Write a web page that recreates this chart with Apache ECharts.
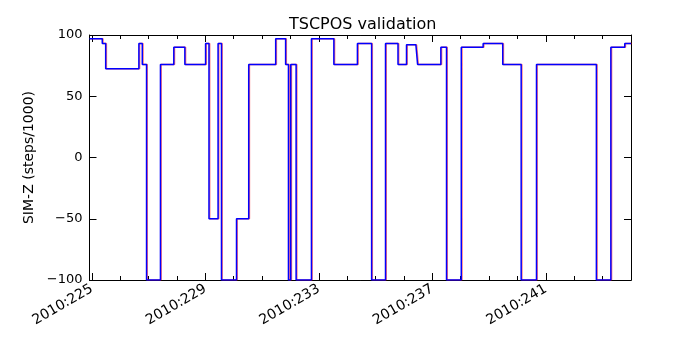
<!DOCTYPE html>
<html>
<head>
<meta charset="utf-8">
<title>TSCPOS validation</title>
<script src="https://cdn.jsdelivr.net/npm/echarts@6/dist/echarts.min.js"></script>
</head>
<body style="margin:0">
<div id="main" style="width:700px;height:350px"></div>
<script>
// day of year 2010 at which SIM-Z changes, and the value held from then on
var changeDays = [224.92, 225.37, 225.49, 226.66, 226.78, 226.93, 227.42, 227.89, 228.28,
  229.01, 229.13, 229.45, 229.57, 230.10, 230.53, 231.48, 231.83, 231.93, 232.01, 232.20,
  232.74, 233.53, 234.36, 234.86, 235.35, 235.79, 236.09, 236.42, 236.48, 237.30, 237.50,
  238.02, 238.79, 239.48, 240.13, 240.67, 242.78, 243.29, 243.78, 244.00];
var simzValues = [97, 93, 72.5, 93, 76, -100, 76, 90, 76,
  93, -50, 93, -100, -50, 76, 97, 76, -100, 76, -100,
  97, 76, 93, -100, 93, 76, 92, 93, 76, 90, -100,
  90, 93, 76, -100, 76, -100, 90, 93, 93];
var majorDays = [225, 229, 233, 237, 241];
var minorDays = [225, 226, 227, 228, 229, 230, 231, 232, 233, 234, 235, 236, 237, 238,
  239, 240, 241, 242, 243];

var X_MIN = 224.92, X_MAX = 244.0;
var points = changeDays.map(function (d, i) { return [d, simzValues[i]]; });

var black = '#000';
function tickAxis(pos, values, len, labels) {
  return {
    type: 'value', position: pos, min: X_MIN, max: X_MAX,
    axisLine: { show: true, onZero: false, lineStyle: { color: black, width: 1 } },
    axisTick: { show: true, inside: true, length: len, customValues: values,
      lineStyle: { color: black, width: 1 } },
    axisLabel: labels ? {
      show: true, customValues: values, rotate: 30, margin: 8,
      fontFamily: 'DejaVu Sans', fontSize: 14, color: black,
      formatter: function (v) { return '2010:' + Math.round(v); }
    } : { show: false },
    splitLine: { show: false }
  };
}

var chart = echarts.init(document.getElementById('main'));
chart.setOption({
  animation: false,
  title: {
    text: 'TSCPOS validation', left: 284, top: 12,
    textStyle: { fontFamily: 'DejaVu Sans', fontSize: 16, fontWeight: 'normal', color: black }
  },
  grid: { left: 89.5, right: 69, top: 35, bottom: 70 },
  xAxis: [
    tickAxis('bottom', majorDays, 7, true),
    tickAxis('bottom', minorDays, 4, false),
    tickAxis('top', majorDays, 7, false),
    tickAxis('top', minorDays, 4, false),
    // slightly shifted scale for the red trace, which sits just behind the blue one
    { type: 'value', show: false, min: X_MIN - 0.025, max: X_MAX - 0.025 }
  ],
  yAxis: [
    {
      type: 'value', position: 'left', min: -100, max: 100, interval: 50,
      name: 'SIM-Z (steps/1000)', nameLocation: 'middle', nameGap: 52,
      nameTextStyle: { fontFamily: 'DejaVu Sans', fontSize: 14, color: black },
      axisLine: { show: true, onZero: false, lineStyle: { color: black } },
      axisTick: { inside: true, length: 7, lineStyle: { color: black } },
      axisLabel: { fontFamily: 'DejaVu Sans', fontSize: 13, color: black, margin: 7,
        formatter: function (v) { return v < 0 ? '\u2212' + (-v) : '' + v; } },
      splitLine: { show: false }
    },
    {
      type: 'value', position: 'right', min: -100, max: 100, interval: 50,
      axisLine: { show: true, onZero: false, lineStyle: { color: black } },
      axisTick: { inside: true, length: 7, lineStyle: { color: black } },
      axisLabel: { show: false },
      splitLine: { show: false }
    }
  ],
  series: [
    {
      type: 'line', xAxisIndex: 4, yAxisIndex: 0, data: points, step: 'end',
      showSymbol: false, lineStyle: { color: '#ff0000', width: 1.5, opacity: 0.55 }, z: 2
    },
    {
      type: 'line', xAxisIndex: 0, yAxisIndex: 0, data: points, step: 'end',
      showSymbol: false, lineStyle: { color: '#0000ff', width: 1.5 }, z: 3
    }
  ]
});
</script>
</body>
</html>
